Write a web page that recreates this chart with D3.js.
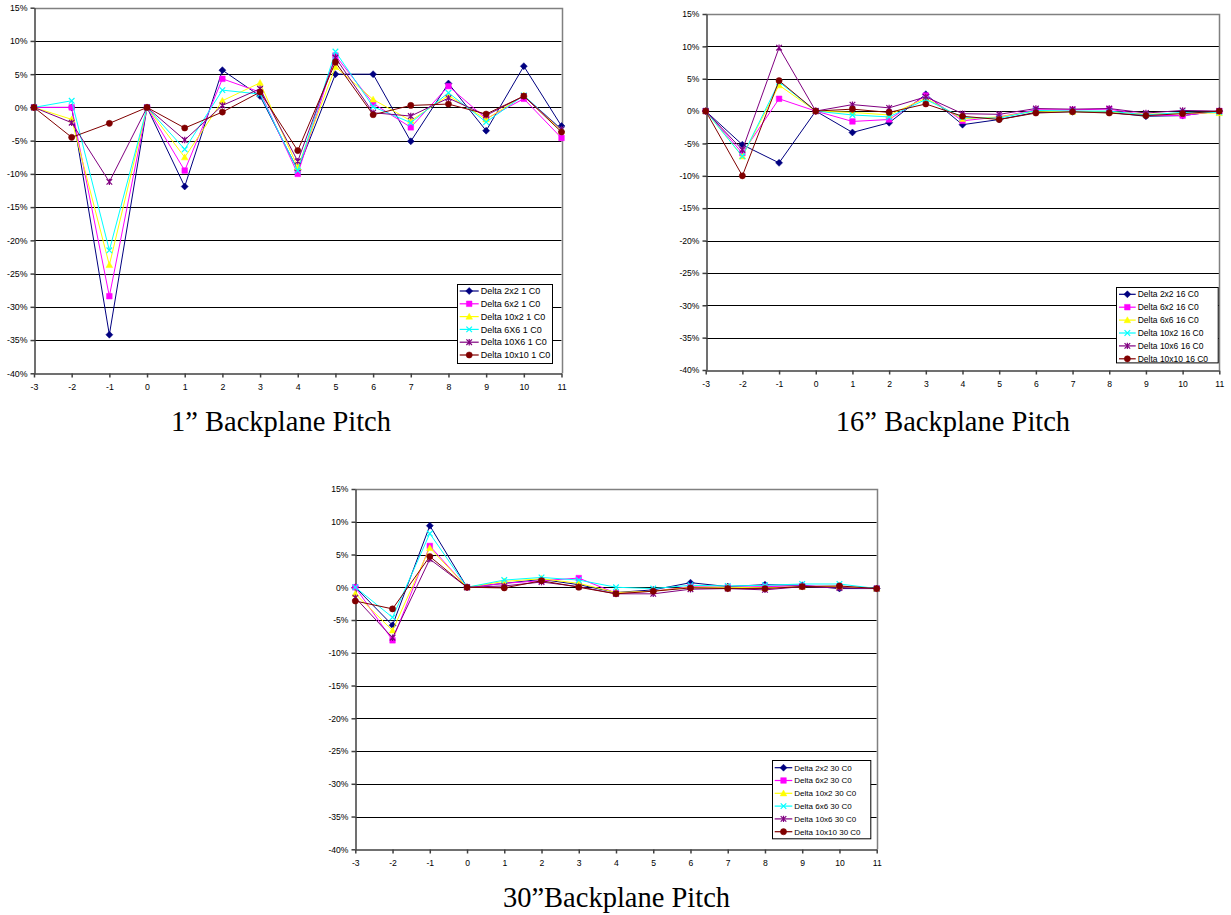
<!DOCTYPE html>
<html>
<head>
<meta charset="utf-8">
<script src="https://cdn.jsdelivr.net/npm/d3@7"></script>
<style>
  body { margin: 0; background: #fff; }
  svg { display: block; }
</style>
</head>
<body>
<div id="chart"></div>
<script>
// === Shared axis values ===
const X_VALUES = [-3, -2, -1, 0, 1, 2, 3, 4, 5, 6, 7, 8, 9, 10, 11];
const Y_TICKS = [15, 10, 5, 0, -5, -10, -15, -20, -25, -30, -35, -40];

// Series styles, same order in all three charts
const SERIES_COLORS = ["#000080", "#FF00FF", "#FFFF00", "#00FFFF", "#800080", "#800000"];
const SERIES_MARKERS = ["diamond", "square", "triangle", "cross", "star", "circle"];

// === 1" backplane pitch (percent) ===
const NAMES_1 = ["Delta 2x2 1 C0", "Delta 6x2 1 C0", "Delta 10x2 1 C0", "Delta 6X6 1 C0", "Delta 10X6 1 C0", "Delta 10x10 1 C0"];
const P1_2X2   = [0, 0, -34.2, 0, -11.9, 5.6, 1.7, -9.4, 5.0, 5.0, -5.1, 3.6, -3.5, 6.2, -2.8];
const P1_6X2   = [0, 0, -28.4, 0, -9.5, 4.3, 2.3, -10.0, 7.8, 0.6, -3.0, 3.2, -1.7, 1.3, -4.6];
const P1_10X2  = [0, -1.8, -23.7, 0, -7.5, 1.0, 3.7, -9.0, 6.1, 1.2, -2.0, 1.8, -1.8, 1.8, -3.5];
const P1_6X6   = [0, 1.0, -21.5, 0, -6.3, 2.6, 2.0, -9.5, 8.4, 0.1, -2.3, 2.2, -2.2, 1.8, -3.3];
const P1_10X6  = [0, -2.3, -11.2, 0, -4.9, 0.3, 2.8, -8.1, 7.5, -0.8, -1.3, 1.4, -1.2, 1.7, -3.3];
const P1_10X10 = [0, -4.5, -2.4, 0, -3.1, -0.7, 2.3, -6.5, 6.8, -1.1, 0.3, 0.5, -1.0, 1.7, -3.7];

// === 16" backplane pitch (percent) ===
const NAMES_16 = ["Delta 2x2 16 C0", "Delta 6x2 16 C0", "Delta 6x6 16 C0", "Delta 10x2 16 C0", "Delta 10x6 16 C0", "Delta 10x10 16 C0"];
const P16_2X2   = [0, -5.2, -8.0, 0, -3.3, -1.8, 2.6, -2.1, -1.3, -0.2, -0.1, -0.2, -0.8, -0.7, 0];
const P16_6X2   = [0, -6.5, 1.9, 0, -1.6, -1.3, 2.4, -1.5, -0.9, 0.2, 0.2, 0.3, -0.6, -0.7, 0];
const P16_6X6   = [0, -7.0, 4.0, 0, -0.2, -0.6, 2.0, -1.2, -0.9, 0, -0.1, -0.1, -0.5, -0.3, -0.3];
const P16_10X2  = [0, -7.0, 4.5, 0, -0.6, -0.9, 1.8, -1.0, -1.1, 0.1, 0, 0, -0.6, -0.2, -0.2];
const P16_10X6  = [0, -6.0, 9.8, 0, 1.0, 0.5, 2.2, -0.4, -0.5, 0.4, 0.3, 0.4, -0.3, 0.1, 0];
const P16_10X10 = [0, -10.0, 4.7, 0, 0.3, -0.2, 1.1, -0.8, -1.3, -0.3, -0.1, -0.3, -0.7, -0.4, 0];

// === 30" backplane pitch (percent) ===
const NAMES_30 = ["Delta 2x2 30 C0", "Delta 6x2 30 C0", "Delta 10x2 30 C0", "Delta 6x6 30 C0", "Delta 10x6 30 C0", "Delta 10x10 30 C0"];
const P30_2X2   = [0, -5.8, 9.4, 0, 0.6, 1.2, 0.4, -0.8, -0.4, 0.7, 0.1, 0.4, 0.3, -0.2, -0.2];
const P30_6X2   = [0, -8.1, 6.3, 0, 0.6, 1.0, 1.4, -0.9, -0.6, 0.1, 0, 0.1, 0.2, 0.1, -0.2];
const P30_10X2  = [-1.0, -6.6, 6.0, 0, 0.9, 1.3, 0.6, -0.8, -0.6, 0, 0, -0.1, 0.1, 0.1, -0.2];
const P30_6X6   = [0, -4.6, 8.2, 0, 1.1, 1.5, 1.1, 0, -0.2, 0.3, 0.2, 0.3, 0.5, 0.5, -0.2];
const P30_10X6  = [-1.6, -7.7, 4.3, 0, 0.2, 0.8, 0.1, -1.0, -1.0, -0.3, -0.2, -0.4, 0.1, -0.1, -0.2];
const P30_10X10 = [-2.1, -3.3, 4.7, 0, -0.1, 1.0, 0, -1.0, -0.6, -0.1, -0.2, -0.2, 0.1, 0.2, -0.2];

const TITLE_1 = "1\u201D Backplane Pitch";
const TITLE_16 = "16\u201D Backplane Pitch";
const TITLE_30 = "30\u201DBackplane Pitch";

const svg = d3.select("#chart")
    .append("svg")
    .attr("width", 1231)
    .attr("height", 915);

/**
 * Marker path around (0,0) for one of the Excel marker styles.
 */
function markerPath(type) {
    switch (type) {
        case "diamond": return "M0,-3.5L3.5,0L0,3.5L-3.5,0Z";
        case "square": return "M-2.8,-2.8H2.8V2.8H-2.8Z";
        case "triangle": return "M0,-3.3L3.3,2.6H-3.3Z";
        case "cross": return "M-2.8,-2.8L2.8,2.8M-2.8,2.8L2.8,-2.8";
        case "star": return "M-2.8,-2.8L2.8,2.8M-2.8,2.8L2.8,-2.8M0,-3.2V3.2";
        default: return d3.symbol(d3.symbolCircle, 30)();
    }
}

function drawMarker(g, type, color, cx, cy) {
    const stroked = type === "cross" || type === "star";
    g.append("path")
        .attr("transform", `translate(${cx},${cy})`)
        .attr("d", markerPath(type))
        .attr("fill", stroked ? "none" : color)
        .attr("stroke", color)
        .attr("stroke-width", stroked ? 1.2 : 0.5);
}

/**
 * Draws one Excel-style line chart with its legend and caption.
 */
function drawChart(cfg) {
    const g = svg.append("g");
    const x = d3.scaleLinear().domain([-3, 11]).range([cfg.left, cfg.right]);
    const y = d3.scaleLinear().domain([-40, 15]).range([cfg.bottom, cfg.top]);

    // Horizontal gridlines
    g.selectAll(".grid")
        .data(Y_TICKS.filter(t => t > -40 && t < 15))
        .join("line")
        .attr("x1", cfg.left).attr("x2", cfg.right)
        .attr("y1", d => Math.round(y(d)) + 0.5).attr("y2", d => Math.round(y(d)) + 0.5)
        .attr("stroke", "#000").attr("stroke-width", 1);

    // Plot area border (top and right)
    g.append("path")
        .attr("d", `M${cfg.left},${Math.round(cfg.top) + 0.5}H${Math.round(cfg.right) + 0.5}V${cfg.bottom}`)
        .attr("fill", "none").attr("stroke", "#808080").attr("stroke-width", 1.5);

    // Y axis
    const yAxis = g.append("g")
        .attr("transform", `translate(${Math.round(cfg.left) + 0.5},0)`)
        .call(d3.axisLeft(y).tickValues(Y_TICKS).tickFormat(d => d + "%").tickSize(4).tickSizeOuter(0).tickPadding(3));

    // X axis (plain hyphen minus, like the original)
    const xAxis = g.append("g")
        .attr("transform", `translate(0,${Math.round(cfg.bottom) + 0.5})`)
        .call(d3.axisBottom(x).tickValues(X_VALUES).tickFormat(d => String(d)).tickSize(4).tickSizeOuter(0).tickPadding(6));

    [yAxis, xAxis].forEach(ax => {
        ax.selectAll("path, line").attr("stroke", "#404040").attr("stroke-width", 1.5);
        ax.selectAll("text")
            .attr("fill", "#000")
            .style("font-family", "'Liberation Sans', Arial, sans-serif")
            .style("font-size", cfg.tickFont + "px");
    });

    // Series lines and markers, first series at the bottom
    const line = d3.line()
        .x((d, i) => x(X_VALUES[i]))
        .y(d => y(d));

    cfg.series.forEach((values, s) => {
        const color = SERIES_COLORS[s];
        g.append("path")
            .datum(values)
            .attr("fill", "none")
            .attr("stroke", color)
            .attr("stroke-width", 1)
            .attr("d", line);
        values.forEach((v, i) => drawMarker(g, SERIES_MARKERS[s], color, x(X_VALUES[i]), y(v)));
    });

    // Legend
    const L = cfg.legend;
    const lg = g.append("g");
    lg.append("rect")
        .attr("x", Math.round(L.x) + 0.5).attr("y", Math.round(L.y) + 0.5)
        .attr("width", L.w).attr("height", L.h)
        .attr("fill", "#fff").attr("stroke", "#000").attr("stroke-width", 1);

    cfg.names.forEach((name, s) => {
        const cy = L.y + L.first + s * L.step;
        const color = SERIES_COLORS[s];
        lg.append("line")
            .attr("x1", L.x + 3).attr("x2", L.x + L.text - 2)
            .attr("y1", cy).attr("y2", cy)
            .attr("stroke", color).attr("stroke-width", 1.2);
        drawMarker(lg, SERIES_MARKERS[s], color, L.x + (L.text + 1) / 2, cy);
        lg.append("text")
            .attr("x", L.x + L.text)
            .attr("y", cy)
            .attr("dy", "0.35em")
            .style("font-family", "'Liberation Sans', Arial, sans-serif")
            .style("font-size", L.font + "px")
            .text(name);
    });

    // Caption under the chart
    g.append("text")
        .attr("x", cfg.titleX)
        .attr("y", cfg.titleY)
        .attr("text-anchor", "middle")
        .style("font-family", "'Liberation Serif', 'Times New Roman', serif")
        .style("font-size", "28.5px")
        .text(cfg.title);
}

drawChart({
    left: 34, right: 561.5, top: 7.7, bottom: 373.3, tickFont: 8.8,
    series: [P1_2X2, P1_6X2, P1_10X2, P1_6X6, P1_10X6, P1_10X10],
    names: NAMES_1,
    legend: { x: 456.7, y: 284, w: 95, h: 79, first: 7, step: 12.8, text: 24, font: 9 },
    title: TITLE_1, titleX: 281, titleY: 431
});

drawChart({
    left: 705.7, right: 1219.3, top: 14, bottom: 370, tickFont: 8.6,
    series: [P16_2X2, P16_6X2, P16_6X6, P16_10X2, P16_10X6, P16_10X10],
    names: NAMES_16,
    legend: { x: 1116, y: 287.3, w: 101.7, h: 75.4, first: 7, step: 12.9, text: 21.7, font: 8.5 },
    title: TITLE_16, titleX: 953, titleY: 431
});

drawChart({
    left: 355.3, right: 876.7, top: 489, bottom: 849.3, tickFont: 8.6,
    series: [P30_2X2, P30_6X2, P30_10X2, P30_6X6, P30_10X6, P30_10X10],
    names: NAMES_30,
    legend: { x: 771.7, y: 760, w: 98.3, h: 78.3, first: 7.7, step: 12.8, text: 22.6, font: 8 },
    title: TITLE_30, titleX: 616.5, titleY: 907
});
</script>
</body>
</html>
